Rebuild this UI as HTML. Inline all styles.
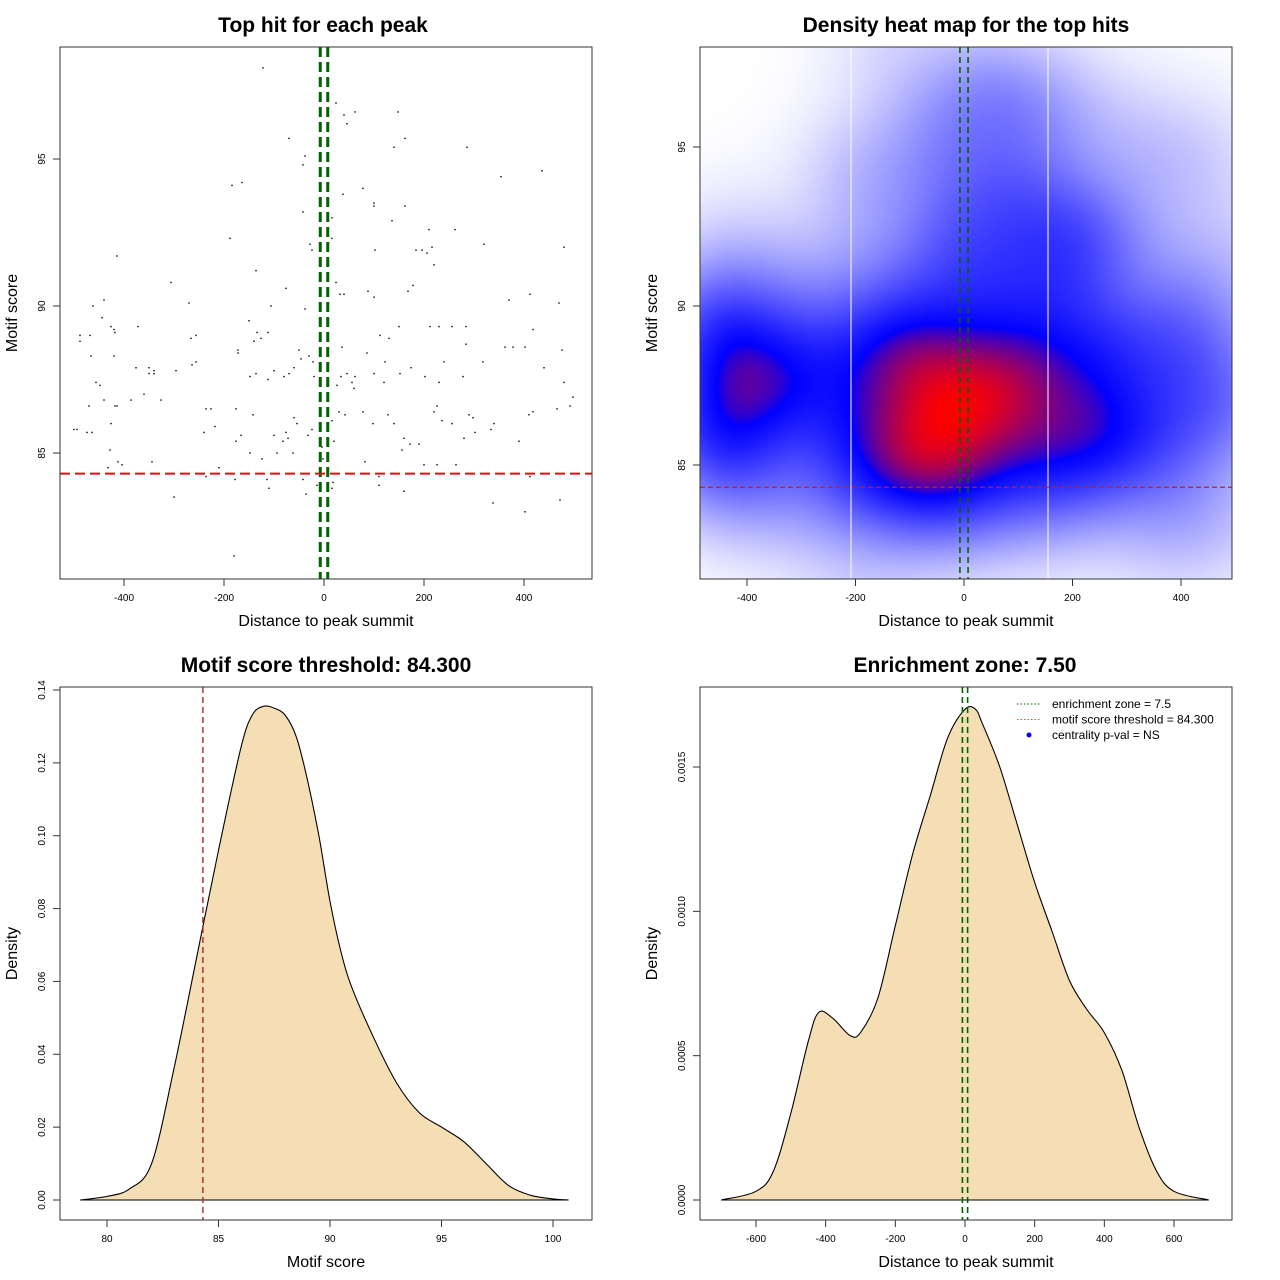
<!DOCTYPE html>
<html><head><meta charset="utf-8">
<style>
html,body{margin:0;padding:0;background:#fff;width:1280px;height:1280px;overflow:hidden}
#wrap{position:relative;width:1280px;height:1280px}
#heat{position:absolute;left:700px;top:47px;width:532px;height:532px;z-index:0}
#main{position:absolute;left:0;top:0;z-index:1}
text{font-family:"Liberation Sans",sans-serif}
</style></head>
<body>
<div id="wrap">
<canvas id="heat" width="266" height="266"></canvas>
<svg id="main" width="1280" height="1280" xmlns="http://www.w3.org/2000/svg"></svg>
</div>
<script>
// ---- data ----
const hitX = [-122,24,40,62,46,148,162,-70,-38,-42,140,286,436,354,-184,-164,78,38,100,100,162,-42,16,136,-188,196,210,262,320,-28,-24,16,480,-414,206,216,184,102,220,-136,-6,24,-306,-76,88,100,178,168,32,40,412,370,470,-440,-462,-270,-38,-106,-444,-426,-420,-418,-372,-150,-134,-126,418,-256,-468,-488,-488,-266,212,150,130,-112,256,230,284,112,-140,-172,-172,-466,-420,-50,36,86,-30,-22,-46,284,362,378,402,476,318,-256,-264,-296,-350,-340,-340,-350,-376,-440,-448,-456,122,-100,-112,-136,-148,-60,-70,-80,46,62,56,152,120,100,240,202,230,278,174,-20,-6,26,34,60,440,480,498,492,-386,-418,-414,-470,-494,-474,-464,-426,-360,-326,-236,-226,-176,-142,-218,-240,-166,-100,-60,-54,-24,-32,-76,-72,-82,16,30,42,78,98,128,140,220,226,236,256,290,298,340,410,418,466,302,334,280,160,172,190,-176,-94,-148,-124,-62,-4,-2,20,82,156,200,226,264,-412,-404,-428,-432,-344,-210,-236,-178,-114,-110,-128,-42,-14,18,16,110,110,160,-300,-36,338,472,402,-180,390,-500,412];
const hitY = [98.1,96.9,96.5,96.6,96.2,96.6,95.7,95.7,95.1,94.8,95.4,95.4,94.6,94.4,94.1,94.2,94.0,93.8,93.5,93.4,93.4,93.2,93.0,92.9,92.3,91.9,92.6,92.6,92.1,92.1,91.9,92.3,92.0,91.7,91.8,92.0,91.9,91.9,91.4,91.2,91.0,90.8,90.8,90.6,90.5,90.3,90.7,90.5,90.4,90.4,90.4,90.2,90.1,90.2,90.0,90.1,89.9,90.0,89.6,89.3,89.2,89.1,89.3,89.5,89.1,88.9,89.2,89.0,89.0,89.0,88.8,88.9,89.3,89.3,88.9,89.1,89.3,89.3,89.3,89.0,88.8,88.5,88.4,88.3,88.3,88.5,88.6,88.4,88.3,88.1,88.2,88.7,88.6,88.6,88.6,88.5,88.1,88.1,88.0,87.8,87.9,87.8,87.7,87.7,87.9,86.8,87.3,87.4,88.1,87.8,87.5,87.7,87.6,87.9,87.7,87.6,87.7,87.6,87.4,87.7,87.4,87.7,88.1,87.6,87.4,87.6,87.9,87.6,87.0,87.3,87.6,87.2,87.9,87.4,86.9,86.6,86.8,86.6,86.6,86.6,85.8,85.7,85.7,86.0,87.0,86.8,86.5,86.5,86.5,86.3,85.9,85.7,85.6,85.6,86.2,86.0,85.8,85.6,85.7,85.5,85.4,86.1,86.4,86.3,86.4,86.0,86.3,86.0,86.4,86.6,86.1,86.0,86.3,86.2,86.0,86.3,86.4,86.5,85.7,85.8,85.5,85.5,85.3,85.3,85.4,85.0,85.0,84.8,85.0,85.2,84.8,85.4,84.7,85.1,84.6,84.6,84.6,84.7,84.6,85.1,84.5,84.7,84.5,84.2,84.1,84.1,83.8,84.3,84.1,83.9,84.0,83.8,84.2,83.9,83.7,83.5,83.6,83.3,83.4,83.0,81.5,85.4,85.8,84.2];
const scoreGrid = [78.8,80,81,82,83,84,85,86,86.5,87,87.5,88,88.5,89,89.5,90,90.5,91,92,93,94,95,96,97,98,99,100,100.7];
const scoreDens = [0,0.001,0.003,0.01,0.036,0.066,0.096,0.124,0.133,0.1355,0.135,0.133,0.127,0.115,0.1,0.082,0.068,0.058,0.044,0.032,0.024,0.02,0.016,0.01,0.004,0.0013,0.0003,0];
const distGrid = [-700,-600,-550,-500,-450,-420,-380,-330,-300,-250,-200,-150,-100,-50,0,30,50,100,150,200,250,300,350,400,450,500,550,600,700];
const distDens = [0,0.00003,0.0001,0.0003,0.00055,0.00065,0.00063,0.00057,0.00058,0.0007,0.00095,0.0012,0.0014,0.0016,0.0017,0.0017,0.00165,0.0015,0.0013,0.0011,0.00093,0.00076,0.00066,0.00058,0.00045,0.00025,0.0001,0.00003,0];
const scoreThreshold = 84.3;
const zone = 7.5;
const ticks1X = [-400,-200,0,200,400], ticks1Y = [85,90,95];
const ticks2X = [-400,-200,0,200,400], ticks2Y = [85,90,95];
const ticks3X = [80,85,90,95,100], ticks3Y = [0,0.02,0.04,0.06,0.08,0.10,0.12,0.14];
const ticks3YLab = ["0.00","0.02","0.04","0.06","0.08","0.10","0.12","0.14"];
const ticks4X = [-600,-400,-200,0,200,400,600], ticks4Y = [0,0.0005,0.001,0.0015];
const ticks4YLab = ["0.0000","0.0005","0.0010","0.0015"];

const NS="http://www.w3.org/2000/svg";
const svg=document.getElementById('main');
function mk(tag,attrs,parent){const e=document.createElementNS(NS,tag);for(const k in attrs)e.setAttribute(k,attrs[k]);(parent||svg).appendChild(e);return e;}
function lin(d0,d1,r0,r1){return v=>r0+(v-d0)/(d1-d0)*(r1-r0);}
function smoothPath(pts){
  let d='M'+pts[0][0].toFixed(1)+','+pts[0][1].toFixed(1);
  for(let i=0;i<pts.length-1;i++){
    const p0=pts[Math.max(0,i-1)],p1=pts[i],p2=pts[i+1],p3=pts[Math.min(pts.length-1,i+2)];
    const c1=[p1[0]+(p2[0]-p0[0])/6,p1[1]+(p2[1]-p0[1])/6];
    const c2=[p2[0]-(p3[0]-p1[0])/6,p2[1]-(p3[1]-p1[1])/6];
    d+=` C${c1[0].toFixed(1)},${c1[1].toFixed(1)} ${c2[0].toFixed(1)},${c2[1].toFixed(1)} ${p2[0].toFixed(1)},${p2[1].toFixed(1)}`;
  }
  return d+'Z';
}

function axes(g,box,sx,sy,xt,yt,xl,yl,title,xlab,ylab,tdx){
  const b=mk('rect',{x:box[0],y:box[1],width:box[2]-box[0],height:box[3]-box[1],fill:'none',stroke:'#333','stroke-width':1},g);
  
  const xa=mk('g',{},g);
  mk('line',{x1:sx(xt[0]),x2:sx(xt[xt.length-1]),y1:box[3],y2:box[3],stroke:'#333'},xa);
  xt.forEach((v,i)=>{mk('line',{x1:sx(v),x2:sx(v),y1:box[3],y2:box[3]+7,stroke:'#333'},xa);
    const t=mk('text',{x:sx(v),y:box[3]+22,'font-size':10,'text-anchor':'middle',fill:'#000'},xa);t.textContent=xl[i];
    });
  const ya=mk('g',{},g);
  mk('line',{x1:box[0],x2:box[0],y1:sy(yt[0]),y2:sy(yt[yt.length-1]),stroke:'#333'},ya);
  yt.forEach((v,i)=>{mk('line',{x1:box[0],x2:box[0]-7,y1:sy(v),y2:sy(v),stroke:'#333'},ya);
    const t=mk('text',{x:box[0]-15,y:sy(v),'font-size':10,'text-anchor':'middle',fill:'#000',transform:`rotate(-90 ${box[0]-15} ${sy(v)})`},ya);t.textContent=yl[i];
    });
  const cx=(box[0]+box[2])/2;
  const tt=mk('text',{x:cx+tdx,y:box[1]-15,'font-size':21,'font-weight':'bold','text-anchor':'middle'},g);tt.textContent=title;
  
  const xt2=mk('text',{x:cx,y:box[3]+47,'font-size':16,'text-anchor':'middle'},g);xt2.textContent=xlab;
  
  const yx=box[0]-43, yy=(box[1]+box[3])/2;
  const yt2=mk('text',{x:yx,y:yy,'font-size':16,'text-anchor':'middle',transform:`rotate(-90 ${yx} ${yy})`},g);yt2.textContent=ylab;
  
}
function vline(g,x,y0,y1,col,w,dash,name){const l=mk('line',{x1:x,x2:x,y1:y0,y2:y1,stroke:col,'stroke-width':w,'stroke-dasharray':dash},g);}
function hline(g,y,x0,x1,col,w,dash,name){const l=mk('line',{x1:x0,x2:x1,y1:y,y2:y,stroke:col,'stroke-width':w,'stroke-dasharray':dash},g);}

// ---- panel 1: scatter ----
{
  const box=[60,47,592,579];
  const sx=lin(0,400,324,524), sy=lin(85,90,453,306);
  const g=mk('g',{});
  hitX.forEach((x,i)=>{const p=mk('rect',{x:sx(x)-0.7,y:sy(hitY[i])-0.7,width:1.4,height:1.4,fill:'#000'},g);
    });
  vline(g,sx(-zone),box[1],box[3],'#006400',3,'10,5','enrichment-zone-left');
  vline(g,sx(zone),box[1],box[3],'#006400',3,'10,5','enrichment-zone-right');
  hline(g,sy(scoreThreshold),box[0],box[2],'#dd1111',2,'10,5','score-threshold-line');
  axes(g,box,sx,sy,ticks1X,ticks1Y,ticks1X.map(String),ticks1Y.map(String),'Top hit for each peak','Distance to peak summit','Motif score',-3);
}
// ---- panel 2: heat map ----
{
  const box=[700,47,1232,579];
  const sx=lin(0,400,964,1181), sy=lin(85,90,465,306);
  const cv=document.getElementById('heat'),ctx=cv.getContext('2d');
  const W=cv.width,H=cv.height,img=ctx.createImageData(W,H);
  const dens=new Float32Array(W*H);let mx=0;
  const bx=80, by=1.35;
  for(let j=0;j<H;j++){const py=box[1]+(j+0.5)*2;const dy=(py-sy(0))/(sy(1)-sy(0));
    for(let i=0;i<W;i++){const px=box[0]+(i+0.5)*2;const dx=(px-sx(0))/(sx(1)-sx(0));
      let s=0;for(let k=0;k<hitX.length;k++){const a=(dx-hitX[k])/bx,b=(dy-hitY[k])/by;s+=Math.exp(-0.5*(a*a+b*b));}
      dens[j*W+i]=s;if(s>mx)mx=s;}}
  for(let k=0;k<W*H;k++){const t=dens[k]/mx;let r,gg,b;const brk=0.66;
    if(t<brk){const u=Math.pow(t/brk,0.7);r=255*(1-u);gg=255*(1-u);b=255;}else{const u=Math.min(1,Math.pow((t-brk)/(1-brk),0.75));r=255*u;gg=0;b=255*(1-u);}
    img.data[k*4]=r;img.data[k*4+1]=gg;img.data[k*4+2]=b;img.data[k*4+3]=255;}
  ctx.putImageData(img,0,0);
  const g=mk('g',{});
  vline(g,851,box[1],box[3],'#ffffff',1,'none','heatmap-seam-left');
  vline(g,1048,box[1],box[3],'#ffffff',1,'none','heatmap-seam-right');
  vline(g,sx(-zone),box[1],box[3],'#006400',1.6,'6,4','enrichment-zone-left');
  vline(g,sx(zone),box[1],box[3],'#006400',1.6,'6,4','enrichment-zone-right');
  hline(g,sy(scoreThreshold),box[0],box[2],'#a52a2a',1.2,'5,3','score-threshold-line');
  axes(g,box,sx,sy,ticks2X,ticks2Y,ticks2X.map(String),ticks2Y.map(String),'Density heat map for the top hits','Distance to peak summit','Motif score',0);
}
// ---- panel 3: score density ----
{
  const box=[60,687,592,1220];
  const sx=lin(80,100,107,553), sy=lin(0,0.14,1200,690);
  const g=mk('g',{});
  const p=mk('path',{d:smoothPath(scoreGrid.map((v,i)=>[sx(v),sy(scoreDens[i])])),fill:'#f5deb3',stroke:'#000','stroke-width':1.1},g);
  
  vline(g,sx(scoreThreshold),box[1],box[3],'#a52a2a',1.4,'6,4','score-threshold-line');
  axes(g,box,sx,sy,ticks3X,ticks3Y,ticks3X.map(String),ticks3YLab,'Motif score threshold: 84.300','Motif score','Density',0);
}
// ---- panel 4: distance density ----
{
  const box=[700,687,1232,1220];
  const sx=lin(-600,600,756,1174), sy=lin(0,0.0015,1200,767);
  const g=mk('g',{});
  const p=mk('path',{d:smoothPath(distGrid.map((v,i)=>[sx(v),sy(distDens[i])])),fill:'#f5deb3',stroke:'#000','stroke-width':1.1},g);
  
  vline(g,sx(-zone),box[1],box[3],'#006400',1.6,'6,4','enrichment-zone-left');
  vline(g,sx(zone),box[1],box[3],'#006400',1.6,'6,4','enrichment-zone-right');
  axes(g,box,sx,sy,ticks4X,ticks4Y,ticks4X.map(String),ticks4YLab,'Enrichment zone: 7.50','Distance to peak summit','Density',-1);
  const lg=mk('g',{},g);
  const items=[['enrichment zone = 7.5','#006400','line'],['motif score threshold = 84.300','#ff4444','line'],['centrality p-val = NS','#0000ff','dot']];
  items.forEach((it,i)=>{const y=704+i*15.5;
    if(it[2]=='line'){const l=mk('line',{x1:1017,x2:1041,y1:y,y2:y,stroke:it[1],'stroke-width':1,'stroke-dasharray':'1.5,2'},lg);}
    else{const c=mk('circle',{cx:1029,cy:y,r:2.5,fill:it[1]},lg);}
    const t=mk('text',{x:1052,y:y+4,'font-size':12},lg);t.textContent=it[0];
    });
}
</script>
</body></html>
